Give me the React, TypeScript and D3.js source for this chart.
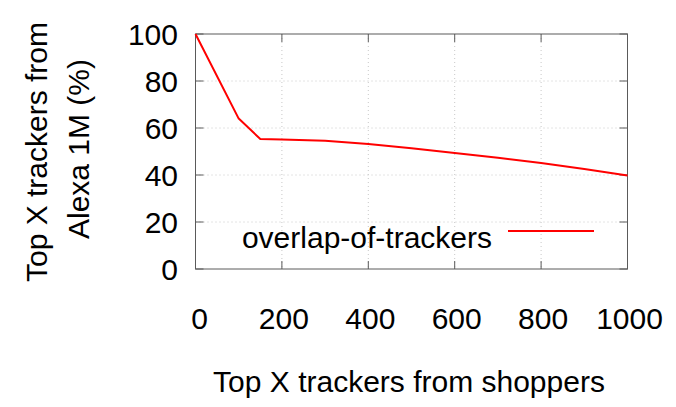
import React, { useEffect, useRef } from "react";
import * as d3 from "d3";

const shoppers = [0, 100, 150, 200, 300, 400, 500, 600, 700, 800, 900, 1000];
const overlap = [100, 64, 55.3, 55.1, 54.6, 53.2, 51.4, 49.4, 47.3, 45.1, 42.6, 39.8];
const xTicks = [0, 200, 400, 600, 800, 1000];
const yTicks = [0, 20, 40, 60, 80, 100];
const seriesName = "overlap-of-trackers";

const width = 676;
const height = 407;
const plot = { left: 195.5, right: 627.5, top: 34, bottom: 269 };
const font = "'Liberation Sans', Arial, sans-serif";
const fontSize = 30;
const axisColor = "#5a5a5a";

const draw = (node: SVGSVGElement) => {
  const svg = d3.select(node);
  svg.selectAll("*").remove();

  const xScale = d3.scaleLinear().domain([0, 1000]).range([plot.left, plot.right]);
  const yScale = d3.scaleLinear().domain([0, 100]).range([plot.bottom, plot.top]);

  // dotted grid
  const grid = svg.append("g").attr("stroke", "#c8c8c8").attr("stroke-width", 1).attr("stroke-dasharray", "1,3");
  grid
    .selectAll("line.gx")
    .data(xTicks.slice(1, -1))
    .enter()
    .append("line")
    .attr("x1", d => xScale(d))
    .attr("x2", d => xScale(d))
    .attr("y1", plot.top)
    .attr("y2", plot.bottom);
  grid
    .selectAll("line.gy")
    .data(yTicks.slice(1, -1))
    .enter()
    .append("line")
    .attr("x1", plot.left)
    .attr("x2", plot.right)
    .attr("y1", d => yScale(d))
    .attr("y2", d => yScale(d));

  // ticks on all four sides, pointing inward
  const ticks = svg.append("g").attr("stroke", axisColor).attr("stroke-width", 1);
  const tl = 8;
  xTicks.forEach(d => {
    ticks.append("line").attr("x1", xScale(d)).attr("x2", xScale(d)).attr("y1", plot.bottom).attr("y2", plot.bottom - tl);
    ticks.append("line").attr("x1", xScale(d)).attr("x2", xScale(d)).attr("y1", plot.top).attr("y2", plot.top + tl);
  });
  yTicks.forEach(d => {
    ticks.append("line").attr("x1", plot.left).attr("x2", plot.left + tl).attr("y1", yScale(d)).attr("y2", yScale(d));
    ticks.append("line").attr("x1", plot.right).attr("x2", plot.right - tl).attr("y1", yScale(d)).attr("y2", yScale(d));
  });

  svg
    .append("rect")
    .attr("x", plot.left)
    .attr("y", plot.top)
    .attr("width", plot.right - plot.left)
    .attr("height", plot.bottom - plot.top)
    .attr("fill", "none")
    .attr("stroke", axisColor)
    .attr("stroke-width", 1);

  // tick labels
  const labels = svg.append("g").attr("font-family", font).attr("font-size", fontSize).attr("fill", "#000");
  labels
    .selectAll("text.xl")
    .data(xTicks)
    .enter()
    .append("text")
    .attr("x", d => xScale(d) + (d === 0 ? 4 : 2))
    .attr("y", 329)
    .attr("text-anchor", "middle")
    .text(d => d);
  labels
    .selectAll("text.yl")
    .data(yTicks)
    .enter()
    .append("text")
    .attr("x", 178)
    .attr("y", d => yScale(d) + 10.5)
    .attr("text-anchor", "end")
    .text(d => d);

  // axis titles
  labels
    .append("text")
    .attr("x", 409)
    .attr("y", 392)
    .attr("text-anchor", "middle")
    .text("Top X trackers from shoppers");
  labels
    .append("text")
    .attr("transform", "translate(47,152) rotate(-90)")
    .attr("text-anchor", "middle")
    .text("Top X trackers from");
  labels
    .append("text")
    .attr("transform", "translate(89,149) rotate(-90)")
    .attr("text-anchor", "middle")
    .text("Alexa 1M (%)");

  // series
  const line = d3
    .line<number>()
    .x((_, i) => xScale(shoppers[i]))
    .y(d => yScale(d));
  svg
    .append("path")
    .datum(overlap)
    .attr("d", line)
    .attr("fill", "none")
    .attr("stroke", "#ff0000")
    .attr("stroke-width", 2)
    .attr("stroke-linejoin", "round");

  // legend
  labels
    .append("text")
    .attr("x", 492)
    .attr("y", 248)
    .attr("text-anchor", "end")
    .text(seriesName);
  svg
    .append("line")
    .attr("x1", 508)
    .attr("x2", 594)
    .attr("y1", 231)
    .attr("y2", 231)
    .attr("stroke", "#ff0000")
    .attr("stroke-width", 2);
};

const App = () => {
  const ref = useRef<SVGSVGElement>(null);
  useEffect(() => {
    if (ref.current) draw(ref.current);
  }, []);
  return (
    <svg
      ref={ref}
      width={width}
      height={height}
      style={{ position: "absolute", left: 0, top: 0, background: "#fff" }}
    />
  );
};

export default App;
